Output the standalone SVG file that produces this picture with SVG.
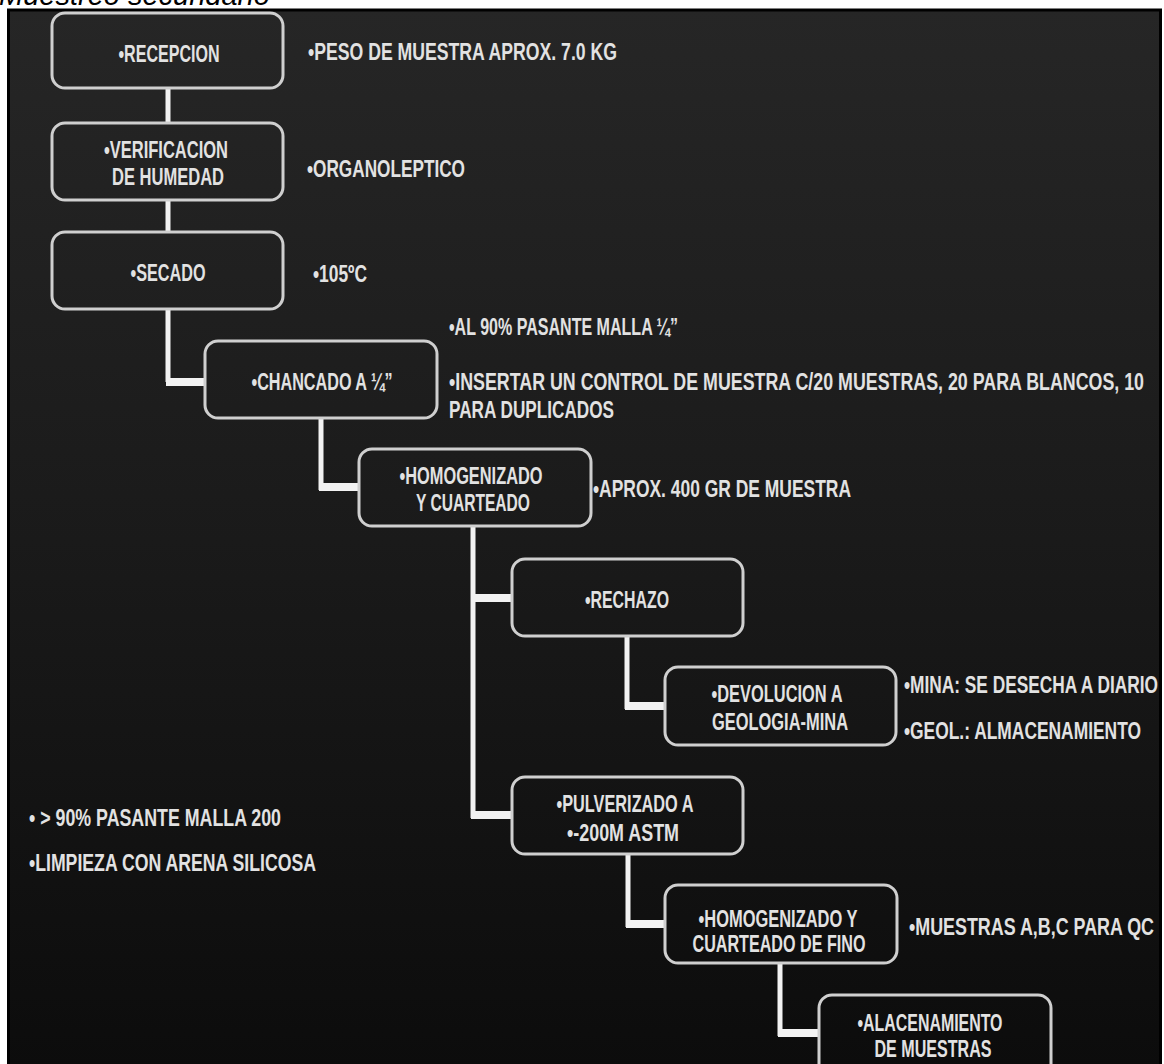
<svg xmlns="http://www.w3.org/2000/svg" width="1164" height="1064" viewBox="0 0 1164 1064">
<defs>
<linearGradient id="bg" x1="0" y1="0" x2="0" y2="1">
<stop offset="0" stop-color="#262626"/>
<stop offset="0.5" stop-color="#1a1a1a"/>
<stop offset="1" stop-color="#0c0c0c"/>
</linearGradient>
</defs>
<style>
.box{fill:none;stroke:#cfcfcf;stroke-width:3}
.t{font-family:"Liberation Sans Narrow","Liberation Sans",Arial,sans-serif;font-weight:bold;font-size:24px;fill:#e2e2e2}
.c{text-anchor:middle}
.v{stroke:#f2f2f2;stroke-width:5;fill:none}
.h{stroke:#f2f2f2;stroke-width:8;fill:none}
.cap{font-family:"Liberation Sans",Arial,sans-serif;font-style:italic;font-size:29px;fill:#000}
</style>
<rect x="0" y="0" width="1164" height="1064" fill="#ffffff"/>
<text class="cap" x="-1" y="5">Muestreo secundario</text>
<rect x="8.5" y="10" width="1152" height="1060" fill="url(#bg)" stroke="#000" stroke-width="3"/>

<g id="connectors">
<line class="v" x1="168" y1="88" x2="168" y2="123"/>
<line class="v" x1="168" y1="200" x2="168" y2="232"/>
<path class="v" d="M168 309 V382"/>
<line class="h" x1="166" y1="382" x2="206" y2="382"/>
<path class="v" d="M321 418 V490"/>
<line class="h" x1="319" y1="487" x2="360" y2="487"/>
<path class="v" d="M473 526 V818"/>
<line class="h" x1="471" y1="598" x2="513" y2="598"/>
<line class="h" x1="471" y1="815" x2="513" y2="815"/>
<path class="v" d="M627 636 V709"/>
<line class="h" x1="625" y1="706" x2="666" y2="706"/>
<path class="v" d="M628 854 V927"/>
<line class="h" x1="626" y1="924" x2="666" y2="924"/>
<path class="v" d="M780 963 V1036"/>
<line class="h" x1="778" y1="1033" x2="820" y2="1033"/>
</g>

<g id="recepcion">
<rect class="box" x="52" y="13" width="231" height="75" rx="13"/>
<text class="t c" x="169" y="62" textLength="101" lengthAdjust="spacingAndGlyphs">•RECEPCION</text>
</g>
<g id="verificacion">
<rect class="box" x="52" y="123" width="231" height="77" rx="13"/>
<text class="t c" x="166" y="158" textLength="124" lengthAdjust="spacingAndGlyphs">•VERIFICACION</text>
<text class="t c" x="168" y="185" textLength="112" lengthAdjust="spacingAndGlyphs">DE HUMEDAD</text>
</g>
<g id="secado">
<rect class="box" x="52" y="232" width="231" height="77" rx="13"/>
<text class="t c" x="168" y="281" textLength="75" lengthAdjust="spacingAndGlyphs">•SECADO</text>
</g>
<g id="chancado">
<rect class="box" x="205" y="341" width="232" height="77" rx="13"/>
<text class="t c" x="322" y="390" textLength="141" lengthAdjust="spacingAndGlyphs">•CHANCADO A ¼”</text>
</g>
<g id="homogenizado">
<rect class="box" x="359" y="449" width="232" height="77" rx="13"/>
<text class="t c" x="471" y="484" textLength="143" lengthAdjust="spacingAndGlyphs">•HOMOGENIZADO</text>
<text class="t c" x="473" y="511" textLength="114" lengthAdjust="spacingAndGlyphs">Y CUARTEADO</text>
</g>
<g id="rechazo">
<rect class="box" x="512" y="559" width="231" height="77" rx="13"/>
<text class="t c" x="627" y="608" textLength="84" lengthAdjust="spacingAndGlyphs">•RECHAZO</text>
</g>
<g id="devolucion">
<rect class="box" x="665" y="667" width="231" height="78" rx="13"/>
<text class="t c" x="777" y="702" textLength="131" lengthAdjust="spacingAndGlyphs">•DEVOLUCION A</text>
<text class="t c" x="780" y="730" textLength="136" lengthAdjust="spacingAndGlyphs">GEOLOGIA-MINA</text>
</g>
<g id="pulverizado">
<rect class="box" x="512" y="777" width="231" height="77" rx="13"/>
<text class="t c" x="625" y="812" textLength="137" lengthAdjust="spacingAndGlyphs">•PULVERIZADO A</text>
<text class="t c" x="623" y="841" textLength="112" lengthAdjust="spacingAndGlyphs">•-200M ASTM</text>
</g>
<g id="homogenizado-fino">
<rect class="box" x="665" y="885" width="232" height="78" rx="13"/>
<text class="t c" x="778" y="927" textLength="159" lengthAdjust="spacingAndGlyphs">•HOMOGENIZADO Y</text>
<text class="t c" x="779" y="952" textLength="173" lengthAdjust="spacingAndGlyphs">CUARTEADO  DE FINO</text>
</g>
<g id="almacenamiento">
<rect class="box" x="819" y="995" width="232" height="90" rx="13"/>
<text class="t c" x="930" y="1031" textLength="145" lengthAdjust="spacingAndGlyphs">•ALACENAMIENTO</text>
<text class="t c" x="933" y="1057" textLength="117" lengthAdjust="spacingAndGlyphs">DE MUESTRAS</text>
</g>

<g id="notes">
<text class="t" x="308" y="60" textLength="309" lengthAdjust="spacingAndGlyphs">•PESO  DE  MUESTRA  APROX. 7.0 KG</text>
<text class="t" x="307" y="177" textLength="158" lengthAdjust="spacingAndGlyphs">•ORGANOLEPTICO</text>
<text class="t" x="313" y="282" textLength="54" lengthAdjust="spacingAndGlyphs">•105ºC</text>
<text class="t" x="449" y="335" textLength="229" lengthAdjust="spacingAndGlyphs">•AL 90% PASANTE  MALLA ¼”</text>
<text class="t" x="449" y="390" textLength="695" lengthAdjust="spacingAndGlyphs">•INSERTAR  UN  CONTROL  DE  MUESTRA  C/20 MUESTRAS,  20 PARA BLANCOS,  10</text>
<text class="t" x="449" y="418" textLength="165" lengthAdjust="spacingAndGlyphs">PARA DUPLICADOS</text>
<text class="t" x="593" y="497" textLength="258" lengthAdjust="spacingAndGlyphs">•APROX. 400 GR DE  MUESTRA</text>
<text class="t" x="904" y="693" textLength="254" lengthAdjust="spacingAndGlyphs">•MINA:  SE  DESECHA   A DIARIO</text>
<text class="t" x="904" y="739" textLength="237" lengthAdjust="spacingAndGlyphs">•GEOL.:  ALMACENAMIENTO</text>
<text class="t" x="29" y="826" textLength="252" lengthAdjust="spacingAndGlyphs">• &gt; 90% PASANTE  MALLA 200</text>
<text class="t" x="29" y="871" textLength="287" lengthAdjust="spacingAndGlyphs">•LIMPIEZA CON  ARENA  SILICOSA</text>
<text class="t" x="909" y="935" textLength="245" lengthAdjust="spacingAndGlyphs">•MUESTRAS  A,B,C  PARA  QC</text>
</g>
</svg>
